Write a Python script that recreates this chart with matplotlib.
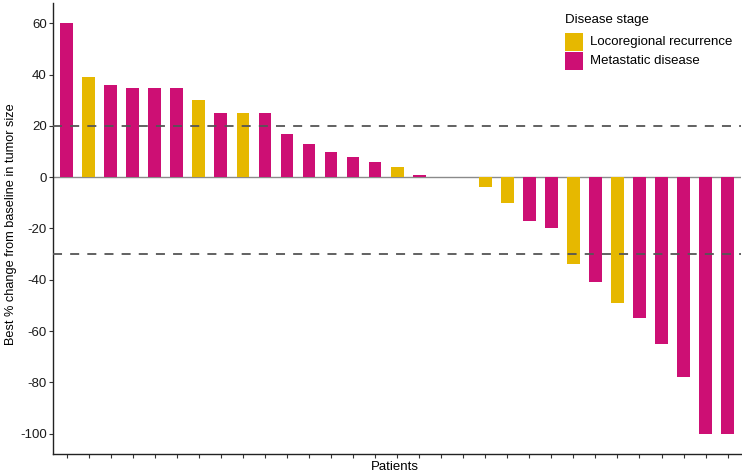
import matplotlib
matplotlib.use('Agg')
import matplotlib.pyplot as plt
from matplotlib.patches import Rectangle

plt.rcParams['font.family'] = ['Liberation Sans', 'DejaVu Sans']
plt.rcParams['axes.unicode_minus'] = False

# best % change per patient, sorted (0 = no change, no bar drawn)
values = [60, 39, 36, 35, 35, 35, 30, 25, 25, 25, 17, 13, 10, 8, 6, 4, 1,
          0, 0,
          -4, -10, -17, -20, -34, -41, -49, -55, -65, -78, -100, -100]
stages = ['M', 'L', 'M', 'M', 'M', 'M', 'L', 'M', 'L', 'M', 'M', 'M', 'M', 'M', 'M', 'L', 'M',
          'M', 'M',
          'L', 'L', 'M', 'M', 'L', 'M', 'L', 'M', 'M', 'M', 'M', 'M']
stage_names = {'L': 'Locoregional recurrence', 'M': 'Metastatic disease'}
stage_colors = {'L': '#E6B800', 'M': '#CD0F74'}
ref_lines = [20, -30]
yticks = [60, 40, 20, 0, -20, -40, -60, -80, -100]

W, H = 742, 474
fig = plt.figure(figsize=(W / 100, H / 100), dpi=100)
ax = fig.add_axes([53 / W, 1 - 454 / H, 1 - 53 / W - 0.001, (454 - 3) / H])

x = list(range(len(values)))
ax.bar(x, values, width=0.58, color=[stage_colors[s] for s in stages], zorder=2)

ax.axhline(0, color='#8a8a8a', lw=1.0, zorder=1)
for r in ref_lines:
    ax.axhline(r, color='#555555', lw=1.3, ls=(0, (5, 4.5)), zorder=3)

ax.set_xlim(-0.62, len(values) - 1 + 0.62)
ax.set_ylim(-108, 68)
ax.set_xticks(x)
ax.set_xticklabels([])
ax.set_yticks(yticks)
ax.tick_params(axis='both', length=3, width=0.8, color='#333333', labelsize=9.5,
               labelcolor='#1a1a1a', pad=1.5)

for side in ['top', 'right']:
    ax.spines[side].set_visible(False)
for side in ['left', 'bottom']:
    ax.spines[side].set_linewidth(1.0)
    ax.spines[side].set_color('#222222')

ax.set_xlabel('Patients', fontsize=9.5)
ax.xaxis.set_label_coords(395 / W, 1 - 460.5 / H, transform=fig.transFigure)
ax.set_ylabel('Best % change from baseline in tumor size', fontsize=9.2)
ax.yaxis.set_label_coords(17 / W, 1 - 224 / H, transform=fig.transFigure)

# legend drawn by hand so the keys are touching squares like the original
def px(xp, yp):
    return xp / W, 1 - yp / H

fig.text(*px(565, 20.5), 'Disease stage', fontsize=9.5, ha='left', va='center')
for i, k in enumerate(['L', 'M']):
    top = 32.7 + i * 19.3
    fig.add_artist(Rectangle(px(565, top + 18), 18 / W, 18 / H, transform=fig.transFigure,
                             facecolor=stage_colors[k], edgecolor='none'))
    fig.text(*px(590.5, top + 9.5), stage_names[k], fontsize=9.5, ha='left', va='center')

fig.savefig('out.png', dpi=100)
